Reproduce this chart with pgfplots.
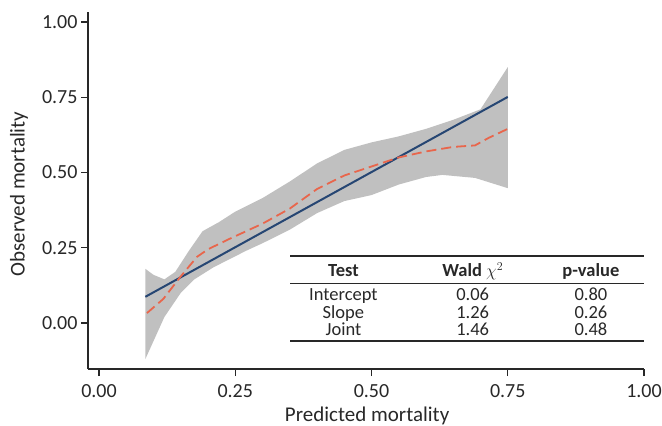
\documentclass[border=0pt]{standalone}
\usepackage{fontspec}
\setmainfont{Carlito}
\usepackage{pgfplots}
\pgfplotsset{compat=1.18}
\definecolor{bandgray}{RGB}{192,192,192}
\definecolor{navy}{RGB}{38,70,115}
\definecolor{redd}{RGB}{232,102,76}
\definecolor{axgray}{RGB}{40,40,40}
\begin{document}
\begin{tikzpicture}
\begin{axis}[
  name=main,
  scale only axis, width=556pt, height=357pt,
  xmin=-0.0202, xmax=1, ymin=-0.1528, ymax=1.0332,
  axis lines=left, axis line style={-, axgray, line width=1.2pt},
  xtick={0,0.25,0.5,0.75,1}, ytick={0,0.25,0.5,0.75,1},
  xticklabels={0.00,0.25,0.50,0.75,1.00},
  yticklabels={0.00,0.25,0.50,0.75,1.00},
  tick align=outside, major tick length=7pt,
  tick style={axgray, line width=1.2pt},
  tick label style={font=\fontsize{20}{23}\selectfont, text=axgray},
  xticklabel style={yshift=-5pt},
  /pgf/number format/assume math mode=true,
  xlabel={Predicted mortality}, ylabel={Observed mortality},
  label style={font=\fontsize{21}{24}\selectfont, text=axgray},
  xlabel style={at={(axis description cs:0.502,-0.132)}, anchor=center},
  ylabel style={at={(axis description cs:-0.124,0.49)}, anchor=center},
  clip=false,
]
% confidence band
\addplot[fill=bandgray, draw=none] coordinates {
 (0.085,0.18) (0.10,0.16) (0.12,0.145) (0.14,0.17) (0.165,0.24) (0.19,0.305)
 (0.22,0.335) (0.25,0.37) (0.30,0.415) (0.35,0.47) (0.40,0.53) (0.45,0.575)
 (0.50,0.60) (0.55,0.62) (0.60,0.645) (0.65,0.675) (0.70,0.71) (0.75,0.85)
 (0.75,0.448) (0.69,0.482) (0.63,0.492) (0.60,0.485) (0.55,0.46) (0.50,0.425)
 (0.45,0.405) (0.40,0.365) (0.35,0.31) (0.30,0.265) (0.27,0.24) (0.21,0.185)
 (0.175,0.145) (0.15,0.10) (0.12,0.02) (0.10,-0.06) (0.085,-0.12)
} -- cycle;
% fitted line
\addplot[navy, line width=2pt] coordinates {(0.085,0.087) (0.75,0.751)};
% smoothed observed
\addplot[redd, line width=1.8pt, dash pattern=on 10pt off 5pt] coordinates {
 (0.088,0.033) (0.118,0.08) (0.15,0.155) (0.18,0.22) (0.20,0.245) (0.24,0.28)
 (0.30,0.33) (0.35,0.38) (0.40,0.445) (0.45,0.49) (0.50,0.52) (0.55,0.55)
 (0.60,0.57) (0.65,0.585) (0.69,0.59) (0.715,0.615) (0.75,0.645)
};
% table
\draw[axgray, line width=1.2pt] (axis cs:0.351,0.2226) -- (axis cs:1.0,0.2226);
\draw[axgray, line width=1.0pt] (axis cs:0.351,0.1329) -- (axis cs:1.0,0.1329);
\draw[axgray, line width=1.2pt] (axis cs:0.351,-0.0598) -- (axis cs:1.0,-0.0598);
\begin{scope}[every node/.style={font=\fontsize{18.5}{21}\selectfont, text=axgray, anchor=base, inner sep=0pt}]
\node at (axis cs:0.4485,0.154) {\bfseries Test};
\node at (axis cs:0.6857,0.154) {\bfseries Wald $\chi^2$};
\node at (axis cs:0.9026,0.154) {\bfseries p-value};
\node at (axis cs:0.4485,0.0764) {Intercept};
\node at (axis cs:0.6857,0.0764) {0.06};
\node at (axis cs:0.9026,0.0764) {0.80};
\node at (axis cs:0.4485,0.0155) {Slope};
\node at (axis cs:0.6857,0.0155) {1.26};
\node at (axis cs:0.9026,0.0155) {0.26};
\node at (axis cs:0.4485,-0.043) {Joint};
\node at (axis cs:0.6857,-0.043) {1.46};
\node at (axis cs:0.9026,-0.043) {0.48};
\end{scope}
\end{axis}
\pgfresetboundingbox
\path[use as bounding box] ([shift={(-88pt,-57pt)}]main.south west) rectangle ([shift={(18pt,12pt)}]main.north east);
\end{tikzpicture}
\end{document}
